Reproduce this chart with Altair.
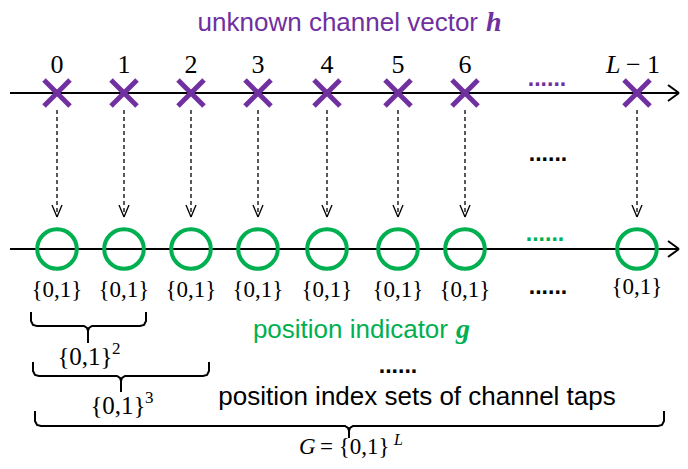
import altair as alt
import pandas as pd

PURPLE = "#7030A0"
GREEN = "#00B050"
SANS = "Liberation Sans"
SERIF = "Liberation Serif"

# ---- texts ----
title_text = "unknown channel vector"
title_sym = "h"
indicator_text = "position indicator"
indicator_sym = "g"
sets_text = "position index sets of channel taps"
tap_labels = ["0", "1", "2", "3", "4", "5", "6"]
last_tap_sym = "L"
last_tap_rest = "− 1"
set_label = "{0,1}"
powers = ["2", "3", "L"]
dots = "......"

# ---- layout of the diagram (reference pixel coordinates) ----
tap_x = [57, 124, 191, 258, 327, 398, 465, 637]
axis_y = [93, 249]
set_label_y = [290, 290, 290, 290, 290, 290, 290, 287]
# braces: left, right, top, horizontal, tip x, tip bottom
braces = [
    (31, 146, 312, 326, 88, 343),
    (33, 209, 362, 376, 121, 392),
    (35, 664, 411, 426, 349, 438),
]

xs = alt.Scale(domain=[8, 680], nice=False, zero=False)
ys = alt.Scale(domain=[8, 461], nice=False, zero=False, reverse=True)


def X(f="x"):
    return alt.X(f, type="quantitative", scale=xs, axis=None)


def Y(f="y"):
    return alt.Y(f, type="quantitative", scale=ys, axis=None)


def rules(segs, **style):
    df = pd.DataFrame(segs, columns=["x", "y", "x2", "y2"])
    return alt.Chart(df).mark_rule(**style).encode(
        x=X(), y=Y(), x2="x2:Q", y2="y2:Q"
    )


def texts(rows, **style):
    df = pd.DataFrame(rows, columns=["x", "y", "t"])
    return alt.Chart(df).mark_text(**style).encode(x=X(), y=Y(), text="t:N")


layers = []

# axes with arrowheads
axis_segs = []
for ay in axis_y:
    axis_segs.append((10, ay, 679, ay))
    axis_segs.append((668, ay - 8, 679, ay))
    axis_segs.append((668, ay + 8, 679, ay))
layers.append(rules(axis_segs, color="black", strokeWidth=2))

# dashed arrows
dash_segs = [(x, 110, x, 216) for x in tap_x]
layers.append(rules(dash_segs, color="black", strokeWidth=1.3, strokeDash=[4, 3]))
head_segs = []
for x in tap_x:
    head_segs.append((x - 5, 205, x, 217))
    head_segs.append((x + 5, 205, x, 217))
layers.append(rules(head_segs, color="black", strokeWidth=1.3))

# crosses
cross_segs = []
for x in tap_x:
    cross_segs.append((x - 13, 80, x + 13, 106))
    cross_segs.append((x - 13, 106, x + 13, 80))
layers.append(rules(cross_segs, color=PURPLE, strokeWidth=5))

# circles
circ = pd.DataFrame({"x": tap_x, "y": [axis_y[1]] * len(tap_x)})
layers.append(
    alt.Chart(circ)
    .mark_point(shape="circle", size=1560, filled=False, strokeWidth=4, color=GREEN, opacity=1)
    .encode(x=X(), y=Y())
)

# braces
brace_rows = []
for i, (L, R, top, h, tip, bot) in enumerate(braces):
    left = [(L, top), (L, h - 5), (L + 2, h - 1), (L + 6, h), (tip - 4, h),
            (tip - 1, h + 2), (tip, h + 5), (tip, bot)]
    right = [(R, top), (R, h - 5), (R - 2, h - 1), (R - 6, h), (tip + 4, h),
             (tip + 1, h + 2), (tip, h + 5)]
    for k, (px, py) in enumerate(left):
        brace_rows.append({"g": f"{i}L", "o": k, "x": px, "y": py})
    for k, (px, py) in enumerate(right):
        brace_rows.append({"g": f"{i}R", "o": k, "x": px, "y": py})
layers.append(
    alt.Chart(pd.DataFrame(brace_rows))
    .mark_line(color="black", strokeWidth=2)
    .encode(x=X(), y=Y(), detail="g:N", order="o:Q")
)

# titles
layers.append(texts([(478, 23, title_text)], align="right", baseline="middle",
                    font=SANS, fontSize=26, color=PURPLE))
layers.append(texts([(486, 23, title_sym)], align="left", baseline="middle",
                    font=SERIF, fontSize=28, fontStyle="italic", fontWeight="bold", color=PURPLE))
layers.append(texts([(448, 330, indicator_text)], align="right", baseline="middle",
                    font=SANS, fontSize=26, color=GREEN))
layers.append(texts([(456, 330, indicator_sym)], align="left", baseline="middle",
                    font=SERIF, fontSize=28, fontStyle="italic", fontWeight="bold", color=GREEN))
layers.append(texts([(417, 397, sets_text)], align="center", baseline="middle",
                    font=SANS, fontSize=26, color="black"))

# tap labels
layers.append(texts([(x, 65, t) for x, t in zip(tap_x, tap_labels)], align="center",
                    baseline="middle", font=SERIF, fontSize=26, color="black"))
layers.append(texts([(606, 65, last_tap_sym)], align="left", baseline="middle",
                    font=SERIF, fontSize=26, fontStyle="italic", color="black"))
layers.append(texts([(643, 65, last_tap_rest)], align="center", baseline="middle",
                    font=SERIF, fontSize=26, color="black"))

# set labels under circles
layers.append(texts([(x, y, set_label) for x, y in zip(tap_x, set_label_y)], align="center",
                    baseline="middle", font=SERIF, fontSize=23, color="black"))

# power sets
layers.append(texts([(85, 357, set_label), (118, 406, set_label)], align="center",
                    baseline="middle", font=SERIF, fontSize=25, color="black"))
layers.append(texts([(112, 349, powers[0]), (145, 398, powers[1])], align="left",
                    baseline="middle", font=SERIF, fontSize=17, color="black"))
layers.append(texts([(299, 447, "G")], align="left", baseline="middle",
                    font=SERIF, fontSize=23, fontStyle="italic", color="black"))
layers.append(texts([(320, 447, "= " + set_label)], align="left", baseline="middle",
                    font=SERIF, fontSize=23, color="black"))
layers.append(texts([(394, 440, powers[2])], align="left", baseline="middle",
                    font=SERIF, fontSize=16, fontStyle="italic", color="black"))

# ellipsis dots
layers.append(texts([(547, 86, dots)], align="center", baseline="alphabetic",
                    font=SANS, fontSize=23, fontWeight="bold", color=PURPLE))
layers.append(texts([(545, 241, dots)], align="center", baseline="alphabetic",
                    font=SANS, fontSize=23, fontWeight="bold", color=GREEN))
layers.append(texts([(548, 161, dots), (548, 294, dots), (398, 373, dots)], align="center",
                    baseline="alphabetic", font=SANS, fontSize=23, fontWeight="bold", color="black"))

chart = (
    alt.layer(*layers)
    .properties(width=672, height=453, padding=0, autosize="none")
    .configure_view(stroke=None)
)

chart.save("out.html", embed_options={"renderer": "svg", "actions": False})
